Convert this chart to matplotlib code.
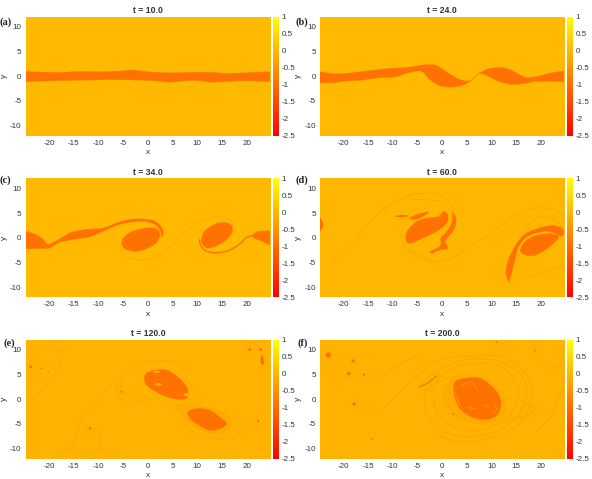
import numpy as np
import matplotlib
matplotlib.use('Agg')
import matplotlib.pyplot as plt
from matplotlib.colors import Normalize
from matplotlib.path import Path
from matplotlib.patches import PathPatch, Ellipse

W, H = 592, 479
XLIM = 24.7
YLIM = 12
VMIN, VMAX = -2.5, 1
CORE = -0.95
THIN = -0.35
FAINT = -0.25
HALO = -0.15

TIMES = [10.0, 24.0, 34.0, 60.0, 120.0, 200.0]
LETTERS = ['(a)', '(b)', '(c)', '(d)', '(e)', '(f)']
BACKGROUND = [0.03, 0.03, 0.03, 0.0, -0.04, -0.06]
XTICKS = [-20, -15, -10, -5, 0, 5, 10, 15, 20]
YTICKS = [-10, -5, 0, 5, 10]
CTICKS = [-2.5, -2, -1.5, -1, -0.5, 0, 0.5, 1]
CLABELS = ['-2.5', '-2', '-1.5', '-1', '-0.5', '0', '0.5', '1']

# vorticity patches, (x, y) outlines per panel
a_band = [(-26, 0.8), (-22, 0.85), (-18, 0.75), (-14, 0.95), (-10, 0.9), (-6, 1.0), (-3, 1.25), (-1, 1.0), (2, 0.75),
          (5, 0.7), (8, 0.75), (11, 0.8), (14, 0.7), (16, 0.55), (20, 0.7), (26, 0.8),
          (26, -1.0), (20, -0.9), (17, -1.0), (13, -1.2), (10, -0.85), (7, -0.95), (4.5, -1.2), (1, -0.9),
          (-3, -0.75), (-8, -0.7), (-12, -0.8), (-17, -0.85), (-22, -1.0), (-26, -1.0)]

b_band = [(-26, 0.87), (-21.7, 0.5), (-18.3, 0.67), (-14.3, 1.2), (-10.2, 1.6), (-6.9, 1.8), (-3.5, 2.3), (-1.1, 2.15),
          (1.2, 0.67), (3.6, -0.67), (5.6, -0.87), (7.6, 0.67), (9.6, 1.55), (12, 1.75), (14, 1.2), (16, 0.13),
          (17.4, -0.27), (20, 0.13), (22.8, 0.8), (26, 0.93),
          (26, -1), (21.4, -1), (18.7, -1.07), (16.7, -1.47), (14, -1.68), (11.3, -1), (9.3, 0), (7.6, 0.53),
          (5.9, -0.87), (4.2, -1.8), (1.9, -2.2), (-0.5, -1.9), (-2.5, -0.67), (-4.2, 1.0), (-6.9, 0.67),
          (-9.6, -0.13), (-13, -0.33), (-16.3, -0.8), (-19.7, -1), (-22.4, -1.34), (-26, -1.07)]

c_core1 = [(-5.3, -1.0), (-4.65, 0.34), (-3, 1.34), (-0.27, 2.0), (1.75, 1.8), (2.4, 0.67), (1.75, -1), (-0.27, -2.2),
           (-2.6, -2.7), (-4.65, -2.2)]
c_core2 = [(10.84, -0.67), (11.5, 1.34), (13.9, 2.9), (16.2, 3.0), (17.1, 2), (16.6, 0.34), (14.5, -1.34), (12.2, -2.1),
           (11.2, -1.5)]
c_arm = [(-26, 1.2), (-23.2, 0.87), (-21.1, -0.34), (-20.1, -1.34), (-17.1, 0.2), (-15.4, 1.14), (-12.4, 1.68),
         (-9, 2), (-6.3, 3), (-3.6, 3.7), (-0.9, 3.8), (1.4, 3.36), (2.9, 2), (3.1, 0.67), (2.76, 0), (2.56, 1.34),
         (1.4, 2.7), (-0.9, 3.36), (-3.3, 3.2), (-6.3, 2.5), (-9, 1.34), (-11.7, 0.2), (-15, -0.34), (-17.8, -0.87),
         (-19.8, -2), (-21.8, -2.15), (-26, -1.9)]
c_right = [(26, 1.2), (23.3, 1.34), (21.9, 1.14), (21.2, 0.2), (23, -0.67), (26, -1.8)]

d_core1 = [(-7.3, -0.4), (-7.1, 1.3), (-5.1, 3.3), (-3.1, 3.96), (-0.74, 4.3), (0.27, 5.3), (1.1, 4.6), (0.94, 3),
           (-1.1, 1.3), (-3.8, 0), (-6.5, -1.1)]
d_crescent = [(-6.5, 4), (-4.8, 4.8), (-2.8, 5.2), (-3.4, 4.6), (-5.4, 3.7)]
d_streak = [(-9.5, 4.3), (-8.1, 4.6), (-6.8, 4.4), (-8.1, 4.2)]
d_side = [(1.95, 5.3), (2.8, 3.96), (2.5, 1.95), (1.3, 0.27), (0.6, -0.74), (1.1, -2.1), (-0.74, -2.55), (-2.1, -3.1),
          (-2.4, -2.8), (-0.74, -1.9), (-0.2, -1.1), (-0.27, -0.07), (0.94, 1.3), (1.95, 3), (2.1, 4.6)]
d_edge = [(-25.2, 4.4), (-24.2, 3.3), (-24.2, 2), (-25.2, 1.2)]
d_core2 = [(15.8, -2.4), (16.8, -0.74), (18.8, 0.4), (21.5, 0.8), (23.5, 0.4), (22.9, -0.74), (20.9, -2.4), (18.5, -3.6),
           (16.4, -3.3)]
d_arm = [(13.4, -8.8), (12.9, -7.1), (13.4, -4.4), (15.1, -1.1), (16.8, 0.8), (19.5, 1.95), (22.2, 2.5), (23.9, 2.1),
         (24.6, 1.3), (24.2, 0.27), (23.5, 0.6), (21.5, 1.3), (18.8, 0.95), (16.8, -0.07), (15.4, -1.9), (14.8, -4.1),
         (14.1, -6.8), (13.6, -8.6)]

e_halo = [(6.1, -1.5), (10.5, -1.34), (15.9, -3.2), (16.6, -5.6), (13.2, -6.9), (9.8, -5.6), (6.8, -2.9)]
e_core1 = [(-0.6, 4.8), (0.4, 5.6), (3.1, 6), (5.1, 5.2), (7.1, 3.5), (8.1, 1.8), (7.8, 0.13), (5.1, 0.13), (2.4, 1.1),
           (0.07, 2.5), (-0.6, 3.5)]
e_core2 = [(8.1, -2.55), (9.8, -1.9), (12.5, -2.2), (14.9, -3.9), (15.9, -4.9), (14.5, -6), (12.2, -6.2), (9.8, -4.9),
           (8.5, -3.9)]
e_blob = [(23.1, 8.9), (23.5, 7.5), (23.2, 6.9), (22.8, 7.6)]

f_halo = [(0.2, 1), (2, 4.4), (6, 5), (10, 3.5), (13, 0), (12, -4), (8, -5), (3, -4), (0.5, -1.5)]
f_core = [(2.6, 3.5), (5.3, 4.3), (8, 4.1), (10.7, 1.9), (11.9, -0.54), (11.1, -3.2), (8.7, -4.1), (6, -3.6), (3.6, -1.9),
          (2.5, 0.8)]

# thin filaments, (x, y) along the line
c_lines = [[(-5.66, -1.68), (-5, -3.36), (-2.3, -4.36), (1.1, -4), (4.4, -2), (7.8, 1.34), (10.5, 3.36), (13.9, 4.2),
            (16.6, 3.7), (17.2, 2.35)]]
c_tail = [(21.3, 0.47), (19.9, 0), (18.2, -1.54), (15.9, -2.7), (13.2, -3), (11.5, -2.5), (10.6, -1.34), (10.5, -0.34)]

d_lines = [[(-22.3, -5.1), (-17.6, -0.4), (-13.5, 4.3), (-9.5, 7.3), (-5.5, 8.8), (-2.1, 9), (0.6, 8), (2.6, 5.6)],
           [(-6.1, 7.8), (-2.8, 7.65), (-0.07, 7.3)],
           [(-7.8, 0.6), (-8.1, -0.74), (-6.5, -3.1), (-3.4, -4.4), (-0.74, -4.8), (1.95, -4.1), (4.65, -2.4),
            (7.3, -0.74), (9.7, 0.6)],
           [(-6.5, -1.9), (-5.1, -3.4), (-2.8, -4.1)],
           [(9.7, 0.6), (10.7, 1.6), (14.7, 4.6), (18.8, 6), (22.8, 5.6), (24.6, 4.3)],
           [(16.8, 1.95), (19.5, 4.2), (22.8, 3.6), (24.6, 1.6)],
           [(16.8, -8.1), (22.2, -6.4), (24.6, -5.4)]]

e_lines = [[(-6.3, 0.47), (-6, 3.5), (-3, 6.85), (1.1, 7.65), (5.8, 7.2), (8.8, 2.5), (9.8, 0.47)],
           [(-6.3, 0.47), (-3.6, -0.87), (-0.27, -0.2), (2.4, 0.13)],
           [(4.1, -1.07), (6.1, -3.9), (9.8, -6.9), (13.2, -7.9), (17.2, -7.6), (20.6, -5.6), (23, -1.9)],
           [(4.4, -1.07), (10.5, -1.34), (15.9, -3.2), (16.6, -5.6), (13.2, -6.9), (9.8, -5.6), (6.8, -2.9), (5.5, -1.34)],
           [(-15.8, -10.6), (-13.7, -5.2), (-10.4, -0.54), (-6.3, 4.2)],
           [(-14.4, -7.9), (-11.7, -5.9), (-9.4, -7.2), (-10, -10.6)],
           [(-5, 4.2), (-5.5, 1.5), (-4, 1.34), (-1.95, 2)],
           [(20.3, 11.9), (22.6, 10.5), (23, 7.85), (24.5, 6.3)],
           [(-24.5, -1.2), (-21.1, 2.15), (-17.4, 7.5), (-18.5, 10.5)]]

f_lines = [[(-4.8, 2.8), (-1.4, 5.5), (4, 7.85), (10.7, 7.85), (15.4, 5.5), (17.1, 1.8), (15.4, -3.2), (10.7, -6.6),
            (4, -7.6), (-0.74, -5.9), (-3.4, -1.9), (-3.1, 1.8), (-0.07, 3.8), (2.6, 4.5)],
           [(-1.75, 0.47), (-0.74, -3.2), (4, -6.2), (10, -5.6), (14.1, -2.55), (15.4, 1.8), (13.4, 5.5), (9.4, 7.2),
            (4, 6.85), (-0.07, 4.8), (-2.1, 1.8)],
           [(-12.9, -3.2), (-9.5, 0.47), (-4.8, 4.8), (-0.74, 7.85), (5.3, 8.7), (12, 8.5), (16.8, 5.2), (18.1, 0.8),
            (16.1, -4.6), (10.7, -7.6), (4, -8.6), (-1.4, -7.2)],
           [(2, -2.2), (0.27, 0.13), (0.6, 2.15), (2.6, 3.5)],
           [(-13.2, 4.2), (-9.5, 6.5), (-5.1, 8.85)],
           [(13.4, -3.9), (17.4, -3.2), (20.1, -0.87)],
           [(15.4, 0.13), (18.8, -1.9)],
           [(19.5, 6.85), (22.2, 6.2), (24.6, 7.5)],
           [(24.6, 2.8), (22.2, -3.2), (18.8, -6.6)]]
f_streak = [(-4.6, 2.5), (-3.1, 3.15), (-1.1, 4.7)]
f_inner = [[(4, 2.8), (6, 3.5), (7, 1.8)], [(5, -1.7), (6.7, -1.9)], [(8.4, -1.1), (9.4, -1.55)],
           [(2.6, 1.5), (3.6, -1.2)], [(10.5, -1), (11, -2), (10.3, -3)]]

# small round spots: x, y, radius
e_spots = [(-23.7, 6.5, 0.3), (-21.5, 6.2, 0.2), (-20.1, 5.5, 0.15), (20.6, 10, 0.3), (22.8, 10, 0.3),
           (22.3, -4.4, 0.25), (-11.7, -5.9, 0.25), (-5.3, 1.5, 0.2)]
e_holes = [(1.75, 5.5, 0.7, 0.2), (2.1, 3, 0.7, 0.25), (7.8, 0.9, 0.6, 0.3)]
f_spots = [(-23, 8.9, 0.55), (-18, 7.7, 0.35), (-18.9, 5.2, 0.35), (-15.8, 5, 0.25), (-17.8, -1.0, 0.35),
           (-14.1, -8, 0.2), (11, 11.5, 0.2), (18.8, 9.8, 0.2), (2.3, -3, 0.2)]


def smooth_path(points, closed=False):
    # cubic segments that pass through every listed point
    pts = np.array(points, dtype=float)
    if closed:
        pts = np.vstack([pts[-1], pts, pts[:2]])
    else:
        pts = np.vstack([pts[0], pts, pts[-1]])
    verts = [pts[1]]
    codes = [Path.MOVETO]
    for i in range(1, len(pts) - 2):
        verts += [pts[i] + (pts[i + 1] - pts[i - 1]) / 6, pts[i + 1] - (pts[i + 2] - pts[i]) / 6, pts[i + 1]]
        codes += [Path.CURVE4] * 3
    return Path(verts, codes)


def add_patches(ax, outlines, color):
    for outline in outlines:
        ax.add_patch(PathPatch(smooth_path(outline, closed=True), fc=color, ec=color, lw=0.2))


def add_lines(ax, lines, color, lw=0.45):
    for line in lines:
        ax.add_patch(PathPatch(smooth_path(line), fc='none', ec=color, lw=lw, capstyle='round'))


def add_spots(ax, spots, color):
    for x, y, r in spots:
        ax.add_patch(Ellipse((x, y), 2 * r, 2 * r, fc=color, ec='none'))


def px_axes(fig, left, top, right, bottom):
    return fig.add_axes([left / W, 1 - bottom / H, (right - left) / W, (bottom - top) / H])


plt.rcParams['font.family'] = ['Liberation Sans', 'DejaVu Sans']
plt.rcParams['axes.unicode_minus'] = False
TEXT = '#333333'

fig = plt.figure(figsize=(W / 100, H / 100), dpi=100)
norm = Normalize(VMIN, VMAX)
cmap = plt.get_cmap('autumn')
core = cmap(norm(CORE))
thin = cmap(norm(THIN))
faint = cmap(norm(FAINT))
halo = cmap(norm(HALO))

lefts = [25.7, 320, 25.7, 320, 25.7, 320]
tops = [16.7, 16.7, 178.3, 178.3, 339.7, 339.7]
label_lefts = [0, 296, 0, 296, 3, 297]
label_tops = [22, 22, 180, 180, 343, 343]
axes = []
for i in range(6):
    left, top = lefts[i], tops[i]
    ax = px_axes(fig, left, top, left + 244.3, top + 119)
    im = ax.imshow(np.full((2, 2), BACKGROUND[i]), cmap=cmap, norm=norm, aspect='auto',
                   extent=[-XLIM, XLIM, -YLIM, YLIM], origin='lower')
    ax.set_xticks(XTICKS)
    ax.set_yticks(YTICKS)
    ax.tick_params(labelsize=5.8, length=0, pad=3, colors=TEXT)
    ax.set_xlabel('x', fontsize=6, color=TEXT, labelpad=1.5)
    ax.set_ylabel('y', fontsize=6, color=TEXT, labelpad=1.5)
    ax.set_title('t = %.1f' % TIMES[i], fontsize=6.2, fontweight='bold', color=TEXT, pad=2.5)
    for spine in ax.spines.values():
        spine.set_visible(False)

    cax = px_axes(fig, left + 247, top, left + 253, top + 119)
    cbar = fig.colorbar(im, cax=cax, ticks=CTICKS)
    cbar.ax.set_yticklabels(CLABELS)
    cbar.outline.set_visible(False)
    cbar.ax.tick_params(labelsize=5.8, length=0, pad=2, colors=TEXT)

    fig.text(label_lefts[i] / W, 1 - label_tops[i] / H, LETTERS[i], family='Liberation Serif', fontweight='bold',
             fontsize=7.5, color='#222222', ha='left', va='center')
    axes.append(ax)

add_patches(axes[0], [a_band], core)
add_patches(axes[1], [b_band], core)

add_patches(axes[2], [c_core1, c_core2, c_arm, c_right], core)
add_lines(axes[2], c_lines, thin)
add_lines(axes[2], [c_tail], core, lw=1.0)

add_patches(axes[3], [d_core1, d_crescent, d_streak, d_side, d_edge, d_core2, d_arm], core)
add_lines(axes[3], d_lines, thin)

add_patches(axes[4], [e_halo], halo)
add_lines(axes[4], e_lines, faint, lw=0.6)
add_patches(axes[4], [e_core1, e_core2, e_blob], core)
add_spots(axes[4], e_spots, core)
for x, y, rx, ry in e_holes:
    axes[4].add_patch(Ellipse((x, y), 2 * rx, 2 * ry, fc=cmap(norm(0.0)), ec='none'))

add_patches(axes[5], [f_halo], halo)
add_lines(axes[5], f_lines, faint, lw=0.7)
add_patches(axes[5], [f_core], core)
add_lines(axes[5], f_inner, thin, lw=0.6)
add_lines(axes[5], [f_streak], core, lw=0.9)
add_spots(axes[5], f_spots, core)

fig.savefig('out.png', dpi=100)
